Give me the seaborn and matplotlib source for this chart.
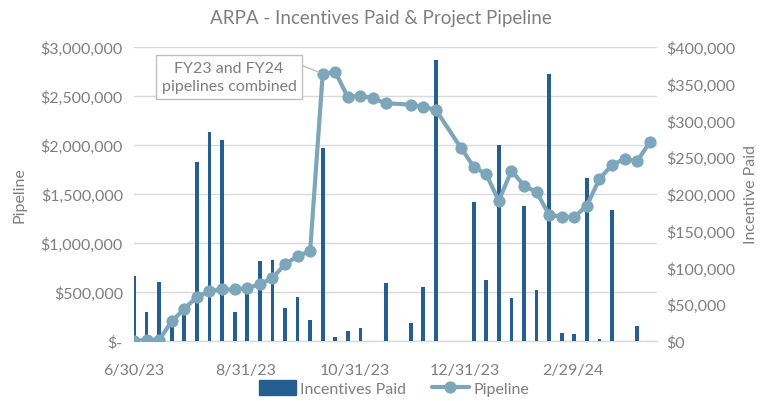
import matplotlib
matplotlib.use("Agg")
import matplotlib.pyplot as plt
from matplotlib.ticker import FuncFormatter, FixedLocator
from matplotlib.patches import Patch
from matplotlib.lines import Line2D
import seaborn as sns
import pandas as pd

# ---------------- data ----------------
bar_dates = ["2023-06-30", "2023-07-07", "2023-07-14", "2023-07-21", "2023-07-28",
             "2023-08-04", "2023-08-11", "2023-08-18", "2023-08-25", "2023-09-01",
             "2023-09-08", "2023-09-15", "2023-09-22", "2023-09-29", "2023-10-06",
             "2023-10-13", "2023-10-20", "2023-10-27", "2023-11-03", "2023-11-17",
             "2023-12-01", "2023-12-08", "2023-12-15", "2024-01-05", "2024-01-12",
             "2024-01-19", "2024-01-26", "2024-02-02", "2024-02-09", "2024-02-16",
             "2024-02-23", "2024-03-01", "2024-03-08", "2024-03-15", "2024-03-22",
             "2024-04-05"]
incentives_paid = [88000, 39000, 80000, 26000, 38000,
                   244000, 285000, 274000, 39000, 72000,
                   109000, 110000, 45000, 60000, 29000,
                   262000, 5000, 14000, 18000, 79000,
                   25000, 73000, 382000, 189000, 83000,
                   267000, 59000, 184000, 69000, 363000,
                   11000, 9000, 222000, 3000, 178000,
                   20000]

pipe_dates = ["2023-06-30", "2023-07-07", "2023-07-14", "2023-07-21", "2023-07-28",
              "2023-08-04", "2023-08-11", "2023-08-18", "2023-08-25", "2023-09-01",
              "2023-09-08", "2023-09-15", "2023-09-22", "2023-09-29", "2023-10-06",
              "2023-10-13", "2023-10-20", "2023-10-27", "2023-11-03", "2023-11-10",
              "2023-11-17", "2023-12-01", "2023-12-08", "2023-12-15", "2023-12-29",
              "2024-01-05", "2024-01-12", "2024-01-19", "2024-01-26", "2024-02-02",
              "2024-02-09", "2024-02-16", "2024-02-23", "2024-03-01", "2024-03-08",
              "2024-03-15", "2024-03-22", "2024-03-29", "2024-04-05", "2024-04-12"]
pipeline = [0, 13000, 13000, 200000, 329000,
            449000, 510000, 526000, 526000, 540000,
            577000, 645000, 781000, 866000, 917000,
            2727000, 2745000, 2487000, 2504000, 2477000,
            2426000, 2412000, 2392000, 2358000, 1967000,
            1780000, 1700000, 1430000, 1739000, 1586000,
            1519000, 1287000, 1270000, 1264000, 1382000,
            1655000, 1797000, 1858000, 1835000, 2029000]

x_ticks = ["2023-06-30", "2023-08-31", "2023-10-31", "2023-12-31", "2024-02-29"]
x_tick_labels = ["6/30/23", "8/31/23", "10/31/23", "12/31/23", "2/29/24"]
left_ticks = [0, 500000, 1000000, 1500000, 2000000, 2500000, 3000000]
right_ticks = [0, 50000, 100000, 150000, 200000, 250000, 300000, 350000, 400000]

title = "ARPA - Incentives Paid & Project Pipeline"
annotation_text = "FY23 and FY24\npipelines combined"

# ---------------- style ----------------
sns.set_theme(style="white")
plt.rcParams["font.family"] = ["Lato", "DejaVu Sans"]

TXT = "#7f7f7f"
GRID = "#d9d9d9"
BAR = "#255e91"
LINE = "#7ea6ba"

bars_df = pd.DataFrame({"date": pd.to_datetime(bar_dates), "paid": incentives_paid})
pipe_df = pd.DataFrame({"date": pd.to_datetime(pipe_dates), "pipeline": pipeline})

fig = plt.figure(figsize=(7.62, 4.02), dpi=100)
ax = fig.add_axes([134 / 762, 60 / 402, (657 - 134) / 762, (342 - 48) / 402])
ax2 = ax.twinx()   # bars (right axis)
ax3 = ax.twinx()   # line (same scale as left axis)

# left axis: ticks + gridlines
ax.set_ylim(0, 3000000)
ax.yaxis.set_major_locator(FixedLocator(left_ticks))
ax.yaxis.set_major_formatter(FuncFormatter(lambda v, p: "$-" if v == 0 else f"${v:,.0f}"))
ax.grid(axis="y", color=GRID, linewidth=1)
ax.set_ylabel("Pipeline", color=TXT, fontsize=11.5, labelpad=10)

# bars on right axis
ax2.bar(bars_df["date"], bars_df["paid"], width=2.1, color=BAR, linewidth=0, zorder=3)
ax2.set_ylim(0, 400000)
ax2.yaxis.set_major_locator(FixedLocator(right_ticks))
ax2.yaxis.set_major_formatter(FuncFormatter(lambda v, p: f"${v:,.0f}"))
ax2.set_ylabel("Incentive Paid", color=TXT, fontsize=11.5, labelpad=6)

# line
sns.lineplot(data=pipe_df, x="date", y="pipeline", ax=ax3, color=LINE, linewidth=3.0,
             marker="o", markersize=8.8, markeredgewidth=0, legend=False)
ax3.set_ylim(0, 3000000)
ax3.set_yticks([])
ax3.set_ylabel("")
ax3.set_xlabel("")

xmin = pd.Timestamp("2023-06-30")
xmax = pd.Timestamp("2024-04-16")
for a in (ax, ax2, ax3):
    a.set_xlim(xmin, xmax)
    for s in a.spines.values():
        s.set_visible(False)
    a.patch.set_visible(False)
ax.spines["bottom"].set_visible(True)
ax.spines["bottom"].set_color(GRID)
ax.spines["bottom"].set_linewidth(1)

ax.set_xticks(pd.to_datetime(x_ticks))
ax.set_xticklabels(x_tick_labels)
ax.tick_params(axis="x", colors=GRID, length=4, width=1, pad=12, labelcolor=TXT, labelsize=11.5)
ax.tick_params(axis="y", length=0, pad=8, labelcolor=TXT, labelsize=11.5)
ax2.tick_params(axis="y", length=0, pad=7, labelcolor=TXT, labelsize=11.5)
ax2.tick_params(axis="x", length=0, labelbottom=False)
ax3.tick_params(axis="x", length=0, labelbottom=False)
ax.set_xlabel("")

fig.text(0.5, 0.955, title, ha="center", va="center", color=TXT, fontsize=13.5)

# annotation callout
ax3.annotate(annotation_text,
             xy=(pipe_df["date"][15], pipe_df["pipeline"][15]),
             xytext=(229, 402 - 78), textcoords="figure pixels",
             ha="center", va="center", color=TXT, fontsize=11.5, linespacing=1.35,
             bbox=dict(boxstyle="square,pad=0.35", fc="white", ec="#bfbfbf", lw=1),
             arrowprops=dict(arrowstyle="-", color="#bfbfbf", lw=1,
                             shrinkA=0, shrinkB=3, relpos=(0.96, 1.0)),
             zorder=10)

# legend
handles = [Patch(facecolor=BAR, edgecolor=BAR, label="Incentives Paid"),
           Line2D([0], [0], color=LINE, lw=3.0, marker="o", markersize=8.8,
                  markeredgewidth=0, label="Pipeline")]
fig.legend(handles=handles, loc="center", bbox_to_anchor=(0.517, 0.032), ncol=2,
           frameon=False, fontsize=11.5, labelcolor=TXT, handlelength=2.3,
           handleheight=1.0, columnspacing=1.6, handletextpad=0.3)

fig.savefig("out.png", dpi=100)
